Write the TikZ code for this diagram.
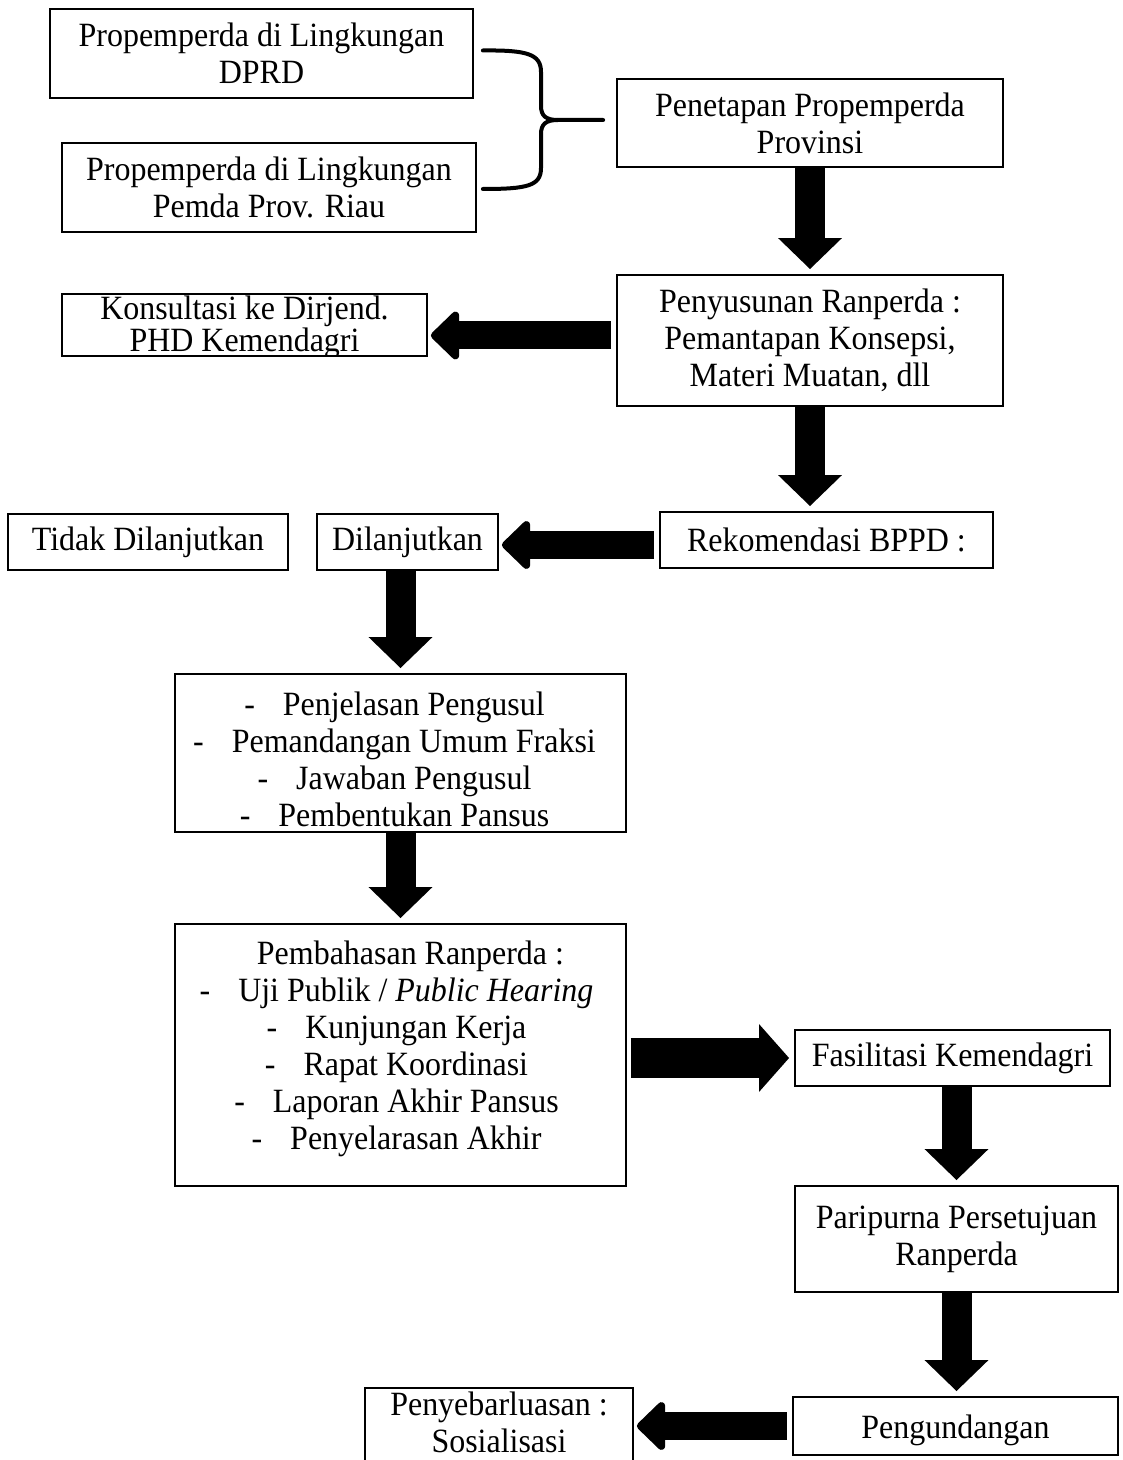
\documentclass[tikz,border=0pt]{standalone}
\usepackage{fontspec}
\setmainfont{Liberation Serif}[FakeStretch=0.94]
\usetikzlibrary{arrows.meta,calc}
\begin{document}
\begin{tikzpicture}[x=0.5pt,y=-0.5pt,
  box/.style={draw, line width=0.9pt, align=center, inner sep=0pt,
    font=\fontsize{17}{18.5}\selectfont},
  txt/.style={align=center, inner sep=0pt, font=\fontsize{17}{18.5}\selectfont},
  vdown/.style={line width=15pt, -{Triangle[width=31pt,length=15.5pt]}, shorten >=2.5pt},
  hleft/.style={line width=14pt, -{Triangle[width=28pt,length=15pt,round]}, shorten <=2.5pt, shorten >=1.5pt},
  hright/.style={line width=20pt, -{Triangle[width=33pt,length=15pt]}, shorten <=2pt, shorten >=2.5pt},
  bracel/.style={line width=2pt, line cap=round}]
\useasboundingbox (0,0) rectangle (1123,1460);

\node[box, minimum width=211.5pt, minimum height=44.5pt] (box1) at (261.5,53.5)
  {Propemperda di Lingkungan\\DPRD};
\node[box, minimum width=207pt, minimum height=44.5pt] (box2) at (269,187.5)
  {Propemperda di Lingkungan\\Pemda Prov. Riau};
\node[box, minimum width=193pt, minimum height=44pt] (box3) at (810,123)
  {Penetapan Propemperda\\Provinsi};
\node[box, minimum width=193pt, minimum height=65.5pt] (box4) at (810,340.5)
  {Penyusunan Ranperda :\\Pemantapan Konsepsi,\\Materi Muatan, dll};
% Konsultasi box: text first, its overflow hidden, then the frame on top
\node[txt] (box5t) at (244.5,327)
  {Konsultasi ke Dirjend.\\[-2.5pt]PHD Kemendagri};
\fill[white] (60,357) rectangle (430,372);
\node[box, minimum width=182.5pt, minimum height=31pt] (box5) at (244.5,325) {};
\node[box, minimum width=166.5pt, minimum height=28pt] (box6) at (826.5,540)
  {Rekomendasi BPPD :};
\node[box, minimum width=90.5pt, minimum height=28pt] (box7) at (407.5,542)
  {Dilanjutkan};
\node[box, minimum width=140pt, minimum height=28pt] (box8) at (148,542)
  {Tidak Dilanjutkan};
\node[box, minimum width=225.5pt, minimum height=79pt] (box9) at (400.5,753) {};
\node[txt] (box9t) at ($(box9.center)+(-6,6)$)
  {-\hspace{14pt}Penjelasan Pengusul\\
   -\hspace{14pt}Pemandangan Umum Fraksi\\
   -\hspace{14pt}Jawaban Pengusul\\
   -\hspace{14pt}Pembentukan Pansus};
\node[box, minimum width=225.5pt, minimum height=131pt] (box10) at (400.5,1055) {};
\node[txt] (box10t) at ($(box10.center)+(-4,-6)$)
  {\hspace{14pt}Pembahasan Ranperda :\\
   -\hspace{14pt}Uji Publik / \textit{Public Hearing}\\
   -\hspace{14pt}Kunjungan Kerja\\
   -\hspace{14pt}Rapat Koordinasi\\
   -\hspace{14pt}Laporan Akhir Pansus\\
   -\hspace{14pt}Penyelarasan Akhir};
\node[box, minimum width=157.5pt, minimum height=28pt] (box11) at (952.5,1058)
  {Fasilitasi Kemendagri};
\node[box, minimum width=161.5pt, minimum height=53pt] (box12) at (956.5,1239)
  {Paripurna Persetujuan\\Ranperda};
\node[box, minimum width=162.5pt, minimum height=29pt] (box13) at (955.5,1426) {};
\node[txt] (box13t) at ($(box13.center)+(0,4)$) {Pengundangan};
\node[box, minimum width=134pt, minimum height=37.5pt] (box14) at (499,1425.5) {};
\node[txt] (box14t) at ($(box14.center)+(0,-3)$) {Penyebarluasan :\\Sosialisasi};

% brace
\coordinate (bt) at ($(box1.east)+(9,-3)$);
\coordinate (bb) at ($(box2.east)+(6,1.5)$);
\coordinate (btip) at ($(box3.west)+(-13,-3)$);
\draw[bracel] (bt) .. controls (527,50) and (541,54) .. (541,72) -- (541,106)
  .. controls (541,116) and (546,120) .. (558,120) -- (btip);
\draw[bracel] (bb) .. controls (527,189) and (541,186) .. (541,168) -- (541,134)
  .. controls (541,124) and (546,120) .. (558,120);

% block arrows
\draw[vdown] (box3.south) -- (box4.north);
\draw[hleft] ($(box4.west)+(0,-5)$) -- ($(box4.west -| box5.east)+(0,-5)$);
\draw[vdown] (box4.south) -- (box4.south |- box6.north);
\draw[hleft] ($(box6.west)+(0,5)$) -- ($(box6.west -| box7.east)+(0,5)$);
\draw[vdown] (box7.south -| box9.north) -- (box9.north);
\draw[vdown] (box9.south) -- (box10.north);
\draw[hright] (box10.east |- box11.west) -- (box11.west);
\draw[vdown] (box11.south -| box12.north) -- (box12.north);
\draw[vdown] (box12.south) -- (box12.south |- box13.north);
\draw[hleft] (box13.west) -- (box13.west -| box14.east);
\end{tikzpicture}
\end{document}
